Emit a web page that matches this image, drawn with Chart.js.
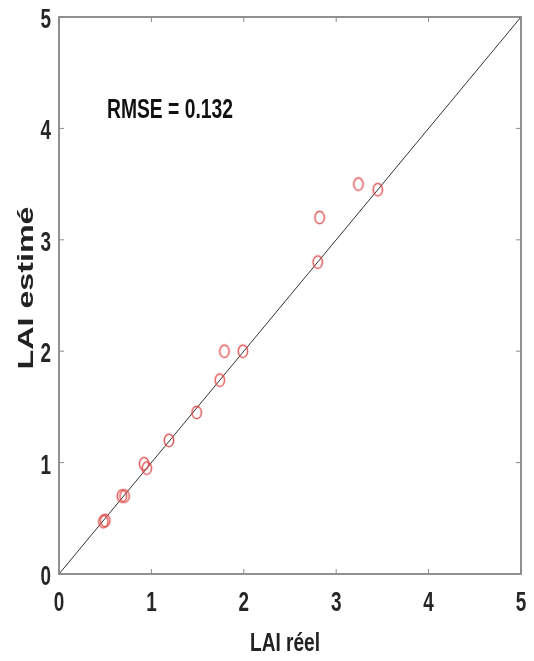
<!DOCTYPE html>
<html>
<head>
<meta charset="utf-8">
<script src="https://cdn.jsdelivr.net/npm/chart.js@4"></script>
<style>
    body { margin: 0; background: #fff; }
    canvas { display: block; }
</style>
</head>
<body>
<canvas id="scatterChart" width="534" height="661"></canvas>
<script>
// Data
const laiReel   = [0.48, 0.50, 0.68, 0.71, 0.92, 0.95, 1.19, 1.49, 1.74, 1.79, 1.99, 2.80, 2.82, 3.24, 3.45];
const laiEstime = [0.47, 0.48, 0.70, 0.70, 0.99, 0.95, 1.20, 1.45, 1.74, 2.00, 2.00, 2.80, 3.20, 3.50, 3.45];
const refLine   = [0, 5];
const tickValues = [0, 1, 2, 3, 4, 5];
const xTitle = 'LAI réel';
const yTitle = 'LAI estimé';
const rmseText = 'RMSE = 0.132';

// Hollow ellipse marker (image looks horizontally squeezed)
function makeMarker() {
    const c = document.createElement('canvas');
    c.width = 14;
    c.height = 17;
    const g = c.getContext('2d');
    g.strokeStyle = 'rgba(222, 60, 60, 0.85)';
    g.lineWidth = 1.5;
    g.beginPath();
    g.ellipse(7, 8.5, 4.7, 6.2, 0, 0, Math.PI * 2);
    g.stroke();
    return c;
}

// Text drawn horizontally squeezed to fit a target width
function fitText(ctx, text, x, y, width, size, align) {
    ctx.save();
    ctx.font = 'bold ' + size + 'px "Liberation Sans", Arial, sans-serif';
    const w = ctx.measureText(text).width;
    const sx = width / w;
    ctx.translate(x, y);
    ctx.scale(sx, 1);
    ctx.textAlign = align;
    ctx.textBaseline = 'alphabetic';
    ctx.fillText(text, 0, 0);
    ctx.restore();
}

// Frame, inward ticks, tick labels, titles and annotation
const decorPlugin = {
    id: 'decor',
    afterDraw(chart) {
        const ctx = chart.ctx;
        const xs = chart.scales.x;
        const ys = chart.scales.y;
        const a = chart.chartArea;

        ctx.save();
        ctx.strokeStyle = '#858585';
        ctx.lineWidth = 1.8;
        ctx.strokeRect(a.left, a.top, a.right - a.left, a.bottom - a.top);

        ctx.lineWidth = 1;
        ctx.strokeStyle = '#8a8a8a';
        const tl = 5;
        tickValues.forEach(v => {
            const px = xs.getPixelForValue(v);
            const py = ys.getPixelForValue(v);
            ctx.beginPath();
            ctx.moveTo(px, a.bottom); ctx.lineTo(px, a.bottom - tl);
            ctx.moveTo(px, a.top); ctx.lineTo(px, a.top + tl);
            ctx.moveTo(a.left, py); ctx.lineTo(a.left + tl, py);
            ctx.moveTo(a.right, py); ctx.lineTo(a.right - tl, py);
            ctx.stroke();
        });

        // tick labels
        ctx.fillStyle = '#262626';
        ctx.font = 'bold 27px "Liberation Sans", Arial, sans-serif';
        tickValues.forEach(v => {
            const label = String(v);
            const px = xs.getPixelForValue(v);
            const py = ys.getPixelForValue(v);
            ctx.save();
            ctx.translate(px, a.bottom + 37);
            ctx.scale(0.7, 1);
            ctx.textAlign = 'center';
            ctx.fillText(label, 0, 0);
            ctx.restore();

            ctx.save();
            ctx.translate(a.left - 8, py + 11);
            ctx.scale(0.7, 1);
            ctx.textAlign = 'right';
            ctx.fillText(label, 0, 0);
            ctx.restore();
        });

        // axis titles
        ctx.fillStyle = '#222';
        fitText(ctx, xTitle, 285, 651, 70, 26, 'center');

        ctx.save();
        ctx.font = 'bold 31px "Liberation Sans", Arial, sans-serif';
        const len = ctx.measureText(yTitle).width;
        ctx.translate(33, 288);
        ctx.rotate(-Math.PI / 2);
        ctx.scale(163 / len, 0.74);
        ctx.textAlign = 'center';
        ctx.textBaseline = 'alphabetic';
        ctx.fillText(yTitle, 0, 0);
        ctx.restore();

        // annotation
        ctx.fillStyle = '#111';
        fitText(ctx, rmseText, 107, 118, 126, 27, 'left');
        ctx.restore();
    }
};

const points = laiReel.map((x, i) => ({ x: x, y: laiEstime[i] }));
const linePts = refLine.map(v => ({ x: v, y: v }));

const ctx = document.getElementById('scatterChart').getContext('2d');
const scatterChart = new Chart(ctx, {
    type: 'scatter',
    data: {
        datasets: [
            {
                label: '1:1',
                data: linePts,
                showLine: true,
                borderColor: '#333',
                borderWidth: 1,
                pointRadius: 0,
                order: 2
            },
            {
                label: 'LAI',
                data: points,
                pointStyle: makeMarker(),
                pointRadius: 6,
                order: 1
            }
        ]
    },
    options: {
        responsive: false,
        animation: false,
        devicePixelRatio: 1,
        layout: { padding: { top: 17, right: 13, left: 0, bottom: 0 } },
        plugins: {
            legend: { display: false },
            tooltip: { enabled: false }
        },
        scales: {
            x: {
                type: 'linear',
                min: 0,
                max: 5,
                ticks: { display: false, stepSize: 1 },
                grid: { display: false },
                border: { display: false },
                afterFit: scale => { scale.height = 87; }
            },
            y: {
                type: 'linear',
                min: 0,
                max: 5,
                ticks: { display: false, stepSize: 1 },
                grid: { display: false },
                border: { display: false },
                afterFit: scale => { scale.width = 59; }
            }
        }
    },
    plugins: [decorPlugin]
});
</script>
</body>
</html>
